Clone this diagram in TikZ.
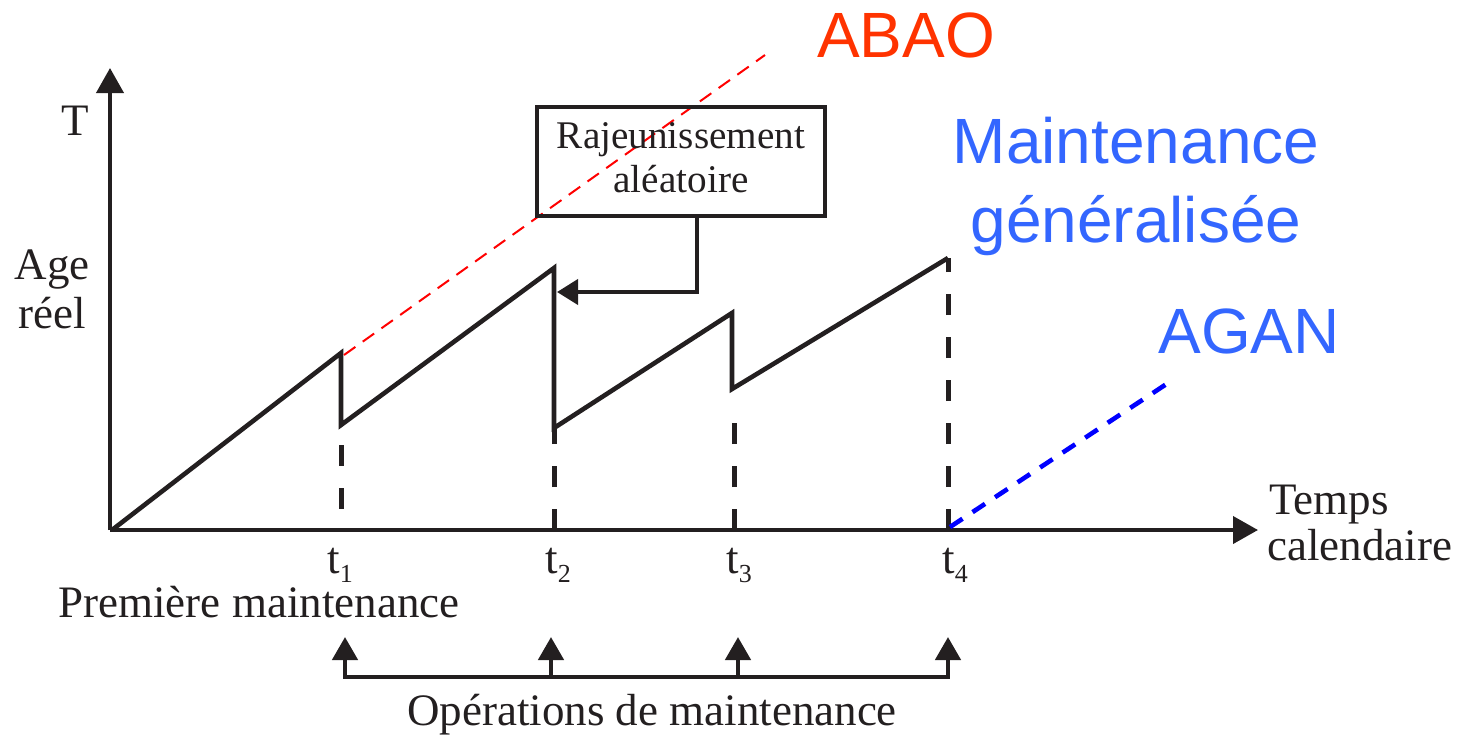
\documentclass[tikz,border=0pt]{standalone}
\usepackage{fontspec}
\setmainfont{Liberation Serif}
\newfontfamily\arialfont{Liberation Sans}
\usetikzlibrary{arrows.meta}
\definecolor{ink}{HTML}{231F20}
\definecolor{abaored}{HTML}{FF3300}
\definecolor{modelblue}{HTML}{3366FF}
% small lowered index for the instants t_i
\newcommand{\instidx}[1]{\raisebox{-4.5pt}{\fontsize{13}{13}\selectfont #1}}

\begin{document}
\begin{tikzpicture}[x=0.5pt,y=-0.5pt,
  axis/.style={ink, line width=2pt, -{Triangle[length=12.5pt,width=13.5pt]}},
  saw/.style={ink, line width=2.3pt, line join=miter},
  guide/.style={ink, line width=2.5pt, dash pattern=on 10.5pt off 11pt},
  opline/.style={ink, line width=2.3pt},
  oparrow/.style={ink, line width=2.3pt, -{Triangle[length=11.5pt,width=12.5pt]}},
  abaoline/.style={red, line width=1pt, dash pattern=on 7pt off 4.5pt},
  aganline/.style={blue, line width=2.3pt, dash pattern=on 7.5pt off 6pt},
  lbl/.style={inner sep=0pt, anchor=base, text=ink, font=\fontsize{22.5}{27}\selectfont},
  boxlbl/.style={inner sep=0pt, anchor=base, text=ink, font=\fontsize{19.6}{22}\selectfont},
  model/.style={inner sep=0pt, anchor=base, font=\arialfont\fontsize{32}{38}\selectfont},
]
\useasboundingbox (0,0) rectangle (1458,736);

% axes
\coordinate (origin) at (110,530);
\coordinate (ytip) at (110,68);
\coordinate (xtip) at (1258,530);
\draw[axis] (origin) -- (ytip);
\draw[axis] (origin) -- (xtip);

% real age: sawtooth
\coordinate (s0) at (112,530);
\coordinate (p1) at (341,353);
\coordinate (b1) at (341,425);
\coordinate (p2) at (554,268);
\coordinate (b2) at (554,428);
\coordinate (p3) at (732,313);
\coordinate (b3) at (732,389);
\coordinate (p4) at (948,258);
\draw[saw] (s0) -- (p1) -- (b1) -- (p2) -- (b2) -- (p3) -- (b3) -- (p4);

% maintenance instants on the time axis
\coordinate (a1) at (341,530);
\coordinate (a2) at (554,530);
\coordinate (a3) at (734,530);
\coordinate (a4) at (948,530);
\draw[guide] (341,445) -- (a1);
\draw[guide] (a2) -- (b2);
\draw[guide] (a3) -- (734,422);
\draw[guide] (a4) -- (p4);

% ABAO and AGAN limits
\coordinate (abaoend) at (765,55);
\draw[abaoline] (344,355) -- (abaoend);
\coordinate (aganend) at (1168,383);
\draw[aganline] (950,527) -- (aganend);

% random rejuvenation box
\node[draw=ink, line width=2pt, minimum width=144pt, minimum height=54.5pt, inner sep=0pt] (rbox) at (681,161.5) {};
\node[boxlbl] (rj1) at (681,148) {Rajeunissement};
\node[boxlbl] (rj2) at (681,192) {aléatoire};
\coordinate (elbow) at (697,292);
\coordinate (hit) at (557,292);
\draw[ink, line width=2pt, -{Triangle[length=10.5pt,width=12.5pt]}]
  (elbow |- rbox.south) -- (elbow) -- (hit);

% axis labels
\node[lbl] (tlab) at (75,135) {T};
\node[lbl] (age1) at (52,279) {Age};
\node[lbl] (age2) at (52,328) {réel};
\node[lbl, anchor=base west] (tc1) at (1269,514) {Temps};
\node[lbl, anchor=base west] (tc2) at (1267,560) {calendaire};

% instant labels
\node[lbl] (t1) at (340,573) {t\instidx{1}};
\node[lbl] (t2) at (558,573) {t\instidx{2}};
\node[lbl] (t3) at (739,573) {t\instidx{3}};
\node[lbl] (t4) at (955,573) {t\instidx{4}};
\node[lbl] (first) at (259,617) {Première maintenance};

% maintenance operations
\coordinate (o1) at (345,677);
\coordinate (o2) at (551,677);
\coordinate (o3) at (738,677);
\coordinate (o4) at (948,677);
\draw[opline, line cap=rect] (o1) -- (o4);
\foreach \i in {1,...,4} {
  \draw[oparrow] (o\i) -- ++(0,-40);
}
\node[lbl] (ops) at (652,725) {Opérations de maintenance};

% model names
\node[model, text=abaored] (abao) at (906,57) {ABAO};
\node[model, text=modelblue] (gen1) at (1136,163) {Maintenance};
\node[model, text=modelblue] (gen2) at (1136,242) {généralisée};
\node[model, text=modelblue] (agan) at (1249,353) {AGAN};
\end{tikzpicture}
\end{document}
